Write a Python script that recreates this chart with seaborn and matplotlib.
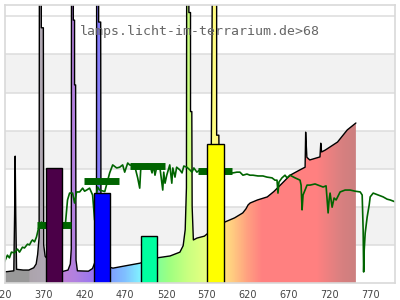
import numpy as np
import matplotlib
matplotlib.use("Agg")
import matplotlib.pyplot as plt
import matplotlib.transforms as mtransforms
import seaborn as sns
from matplotlib.colors import to_rgb

# ---------------- data ----------------
title_text = "lamps.licht-im-terrarium.de>68"

lamp_wl = [320, 326, 333.6, 334.6, 335.3, 336.0, 337.0, 345, 352, 358, 361, 362.8,
           364.6, 365.0, 367.3, 367.3, 369.8, 370.2, 372, 380, 390, 393, 400, 402.8,
           404.0, 404.3, 406.5, 406.5, 408.0, 408.0, 409.3, 409.8, 411.5, 425, 430, 433,
           434.8, 435.1, 437.5, 437.5, 440.0, 440.4, 443, 450, 455, 470, 488, 500,
           509, 525, 537, 541, 543.5, 545.0, 545.4, 548.0, 548.0, 550.0, 550.0, 551.6,
           552.0, 553.5, 558, 567, 571, 575, 577.2, 582, 582, 584.7, 585.5, 589,
           592, 604, 614, 618, 620.5, 623, 632, 644, 652, 660, 672, 684,
           690.3, 691.0, 691.8, 692.5, 696, 708.5, 709.5, 710.5, 715, 730, 742, 752.5]
lamp_val = [2.9, 3.0, 3.2, 18, 33.3, 18, 3.6, 3.4, 3.4, 4.0, 5.0, 7.5,
            12, 95, 95, 67, 67, 10, 7, 5, 4, 3.0, 3.4, 5,
            9, 95, 95, 69, 69, 52, 52, 6, 3.2, 3.1, 3.8, 5.5,
            9, 95, 95, 68.5, 68.5, 12, 7, 4.2, 3.9, 4.5, 5.2, 6,
            6.6, 7.1, 8.1, 9.8, 14, 25, 95, 95, 71, 71, 45, 45,
            20, 11.3, 11.8, 12.3, 13, 20, 95, 95, 38.8, 38.8, 22, 17,
            16, 17.1, 18.4, 19.5, 20.5, 21, 21.8, 22.6, 24, 25.7, 28.3, 29.7,
            30.4, 39.6, 36, 33, 32.3, 33.1, 36.7, 34.4, 34.9, 37, 40.2, 42]

sun_wl = [316.0, 319.7, 322.1, 325.8, 328.3, 330.7, 334.4, 338.1, 340.6, 344.2, 346.7,
          350.4, 352.8, 355.3, 356.5, 359.0, 361.4, 363.9, 367.5, 371.2, 377.4, 387.2,
          393.3, 397.0, 399.4, 401.9, 405.6, 408.0, 410.5, 414.2, 417.9, 420.3, 422.8,
          426.4, 430.1, 432.6, 433.8, 436.3, 438.7, 445.0, 451.0, 454.7, 459.6, 463.3,
          466.9, 469.4, 473.1, 475.5, 481.7, 485.3, 487.8, 489.0, 493.9, 497.0, 500.1,
          502.9, 504.5, 506.5, 509.0, 512.3, 516.0, 517.2, 518.8, 520.9, 524.6, 527.1,
          528.3, 531.0, 533.0, 536.9, 539.6, 541.8, 545.5, 549.2, 551.8, 554.1, 557.8,
          561.4, 575.0, 590.0, 598.2, 601.9, 606.8, 610.5, 614.2,
          619.1, 622.8, 626.5, 632.6, 638.7, 643.6, 649.8, 653.4, 655.9, 657.1, 658.3,
          662.0, 665.7, 668.2, 671.8, 678.0, 684.1, 685.4, 686.6, 687.8, 690.2, 692.7,
          696.4, 702.5, 708.7, 712.3, 716.0, 718.5, 719.7, 720.9, 723.4, 725.8, 728.3,
          733.2, 739.3, 745.5, 751.6, 757.8, 760.2, 761.4, 762.0, 762.7, 763.9, 766.3,
          768.8, 770.0, 773.7, 779.8, 785.9, 790.8, 794.5, 798.2, 804.3]
sun_val = [2.1, 4.5, 5.5, 7.3, 6.6, 8.1, 7.9, 8.9, 8.1, 9.4, 9.2,
           10.2, 10.0, 11.0, 11.3, 10.8, 12.1, 14.4, 16.0, 15.0, 16.5, 16.0,
           15.0, 16.0, 21.8, 23.6, 23.6, 21.0, 23.9, 23.9, 24.9, 24.1, 24.4,
           24.9, 23.1, 16.5, 21.8, 25.2, 24.4, 24.0, 28.9, 31.0, 30.2, 30.4,
           31.0, 29.1, 31.5, 31.0, 30.7, 27.6, 24.9, 29.7, 30.7, 31.2, 31.0,
           28.9, 31.0, 28.3, 30.8, 30.7, 24.4, 29.1, 26.2, 28.3, 31.0, 26.2,
           30.2, 27.8, 30.4, 29.7, 28.9, 30.7, 30.4, 29.7, 29.1, 30.2, 29.1,
           29.7, 29.5, 29.0, 28.9, 28.9, 29.1, 29.1, 28.3,
           28.6, 28.3, 28.3, 28.1, 28.1, 27.8, 27.6, 27.0, 27.0, 23.6, 26.5,
           27.6, 28.3, 27.6, 28.3, 27.6, 27.0, 25.7, 19.2, 23.1, 24.4, 25.7,
           25.7, 26.0, 25.5, 25.2, 25.5, 18.4, 21.8, 23.6, 19.9, 22.3, 21.8,
           23.9, 24.4, 24.4, 24.1, 23.9, 23.1, 13.9, 2.9, 8.7, 13.1, 17.3,
           20.5, 22.6, 23.6, 23.1, 22.6, 22.0, 21.8, 21.5, 21.0]

bar_centers = [382.7, 441.5, 499.5, 580.8]
bar_widths = [20.4, 19.7, 19.1, 20.8]
bar_heights = [30.1, 23.5, 12.3, 36.4]
bar_colors = ["#4b0048", "#0000ff", "#00ffa0", "#ffff00"]

sun_band_centers = [382.8, 441.0, 497.0, 580.0]
sun_band_half = [20.5, 21.0, 21.5, 21.0]
sun_band_values = [15.3, 26.7, 30.6, 29.4]

xtick_values = [320, 370, 420, 470, 520, 570, 620, 670, 720, 770]

# colour stops of the spectrum fill (wavelength -> colour)
stop_wl = [320, 352.5, 353, 372, 393, 410, 430, 440, 452, 470, 488, 509, 525, 546,
           570, 578, 592, 605, 620, 638, 705, 735, 753]
stop_col = ["#999999", "#999999", "#aca4ac", "#b0a8b4", "#c080d8", "#b080e0", "#9a76f0",
            "#8080ff", "#7f9fff", "#80c0ff", "#80f0ff", "#80ff98", "#a0ff80", "#c8ff80",
            "#e8ff80", "#ffff80", "#ffe080", "#ffc480", "#ffa080", "#ff8080", "#ff8080",
            "#d88080", "#cc7f7f"]

# ---------------- drawing ----------------
sns.set_theme(style="white")
plt.rcParams["font.family"] = ["DejaVu Sans"]

fig = plt.figure(figsize=(4, 3), dpi=100)
ax = fig.add_axes([5.3 / 400, 17 / 300, (395 - 5.3) / 400, (283 - 5.3) / 300])
XMIN, XMAX, YMAX = 323.2, 800.4, 72.9

for lo in (10, 30, 50):
    ax.axhspan(lo, lo + 10, color="#f2f2f2", zorder=0, lw=0)
ax.set_yticks(range(10, 80, 10))
ax.yaxis.grid(True, color="#dddddd", lw=1.1, zorder=0.5)
ax.xaxis.grid(False)
ax.set_axisbelow(True)

# spectrum fill with wavelength gradient
poly = ax.fill_between(lamp_wl, 0, lamp_val, color="none", lw=0, zorder=1)
gx = np.linspace(XMIN, max(lamp_wl), 900)
rgb = np.array([to_rgb(c) for c in stop_col])
grad = np.stack([np.interp(gx, stop_wl, rgb[:, k]) for k in range(3)], axis=-1)[None, :, :]
im = ax.imshow(grad, extent=[XMIN, max(lamp_wl), 0, YMAX], aspect="auto",
               interpolation="nearest", zorder=1)
im.set_clip_path(poly.get_paths()[0], transform=ax.transData)

sns.lineplot(x=lamp_wl, y=lamp_val, color="black", lw=1.0, estimator=None,
             sort=False, ax=ax, zorder=2)
sns.lineplot(x=sun_wl, y=sun_val, color="#006400", lw=1.2, estimator=None,
             sort=False, ax=ax, zorder=3)
ax.hlines(sun_band_values,
          [c - h for c, h in zip(sun_band_centers, sun_band_half)],
          [c + h for c, h in zip(sun_band_centers, sun_band_half)],
          color="#006400", lw=5, zorder=4)
ax.bar(bar_centers, bar_heights, width=bar_widths, color=bar_colors,
       edgecolor="black", lw=1.0, zorder=5)

ax.text(0.5, 0.904, title_text, transform=ax.transAxes, ha="center", va="center",
        family="DejaVu Sans Mono", fontsize=9.5, color="#666666", zorder=6)

ax.set_xlim(XMIN, XMAX)
ax.set_ylim(0, YMAX)
PAD = 5.0
inside = [v for v in xtick_values if v >= XMIN]
ax.set_xticks(inside)
ax.set_xticklabels([str(v) for v in inside])
ax.tick_params(axis="x", length=0, pad=PAD, labelsize=7, colors="#444444")
ax.tick_params(axis="y", left=False, labelleft=False)
shift = mtransforms.ScaledTranslation(0, -PAD / 72, fig.dpi_scale_trans)
for v in xtick_values:
    if v < XMIN:
        ax.text(v, 0.0, str(v), transform=ax.get_xaxis_transform() + shift, ha="center",
                va="top", fontsize=7, color="#444444", clip_on=False)
for s in ax.spines.values():
    s.set_color("#d9d9d9")
    s.set_linewidth(1.2)
    s.set_zorder(7)

fig.savefig("out.png", dpi=100)
